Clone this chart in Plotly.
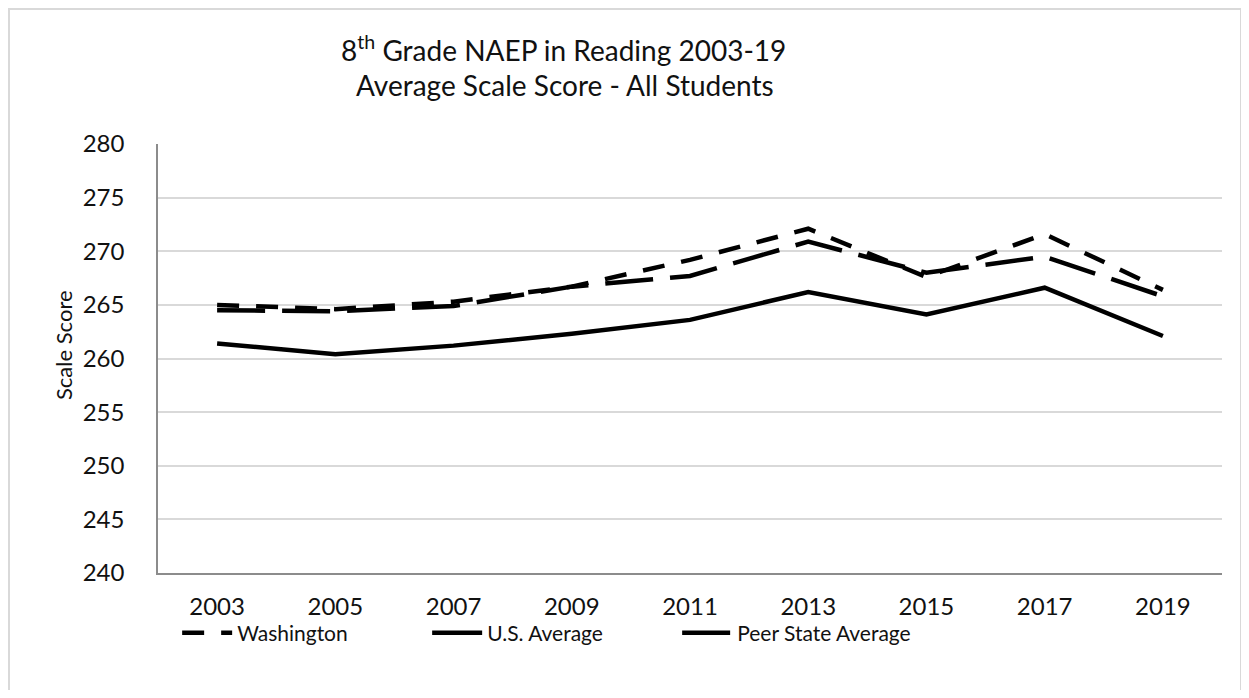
import plotly.graph_objects as go

years = ["2003", "2005", "2007", "2009", "2011", "2013", "2015", "2017", "2019"]
washington = [265.0, 264.6, 265.3, 266.7, 269.2, 272.1, 267.6, 271.6, 266.4]
us_average = [261.4, 260.4, 261.2, 262.3, 263.6, 266.2, 264.1, 266.6, 262.1]
peer_average = [264.5, 264.4, 264.9, 266.7, 267.7, 270.9, 268.0, 269.5, 265.8]
y_ticks = [240, 245, 250, 255, 260, 265, 270, 275, 280]

FONT = "Lato"

fig = go.Figure()
fig.add_trace(go.Scatter(x=years, y=washington, mode="lines", name="Washington",
                         line=dict(color="black", width=4.5, dash="22px,17px")))
fig.add_trace(go.Scatter(x=years, y=us_average, mode="lines", name="U.S. Average",
                         line=dict(color="black", width=4.5)))
fig.add_trace(go.Scatter(x=years, y=peer_average, mode="lines", name="Peer State Average",
                         line=dict(color="black", width=4.5, dash="48px,17px")))

# page offset of ~8px: plot area spans x 158..1222, y 144..573 in the screenshot
X0, X1, Y0, Y1 = 158.0, 1222.0, 144.0, 573.0
PW, PH = X1 - X0, Y1 - Y0


def px(x):
    return (x - X0) / PW


def py(y):
    return (Y1 - y) / PH


fig.update_layout(
    width=1233, height=682,
    margin=dict(l=150, r=19, t=136, b=117),
    paper_bgcolor="white", plot_bgcolor="white",
    font=dict(family=FONT, color="black", size=20),
    xaxis=dict(
        type="category", range=[-0.5, 8.5], showgrid=False, showline=True,
        linecolor="#8c8c8c", linewidth=1.5, ticks="", ticklabelstandoff=11,
        tickfont=dict(size=24, family=FONT, color="#111111"), fixedrange=True,
    ),
    yaxis=dict(
        range=[240, 280], tickvals=y_ticks, showgrid=True, gridcolor="#d9d9d9", gridwidth=1.5,
        showline=True, linecolor="#8c8c8c", linewidth=1.5, zeroline=False, ticks="",
        ticklabelstandoff=27, tickfont=dict(size=24, family=FONT, color="#111111"),
    ),
    showlegend=True,
    legend=dict(
        orientation="h", x=0.018, xanchor="left", y=-0.14, yanchor="middle",
        font=dict(size=21, family=FONT, color="#111111"), entrywidth=185,
        entrywidthmode="pixels", itemwidth=50, bgcolor="rgba(0,0,0,0)",
    ),
    annotations=[
        dict(text="8<sup>th</sup> Grade NAEP in Reading 2003-19", xref="paper", yref="paper",
             x=px(563), y=py(48), xanchor="center", yanchor="middle", showarrow=False,
             font=dict(family=FONT, size=28, color="#111111")),
        dict(text="Average Scale Score - All Students", xref="paper", yref="paper",
             x=px(565), y=py(85), xanchor="center", yanchor="middle", showarrow=False,
             font=dict(family=FONT, size=28, color="#111111")),
        dict(text="Scale Score", xref="paper", yref="paper", textangle=-90,
             x=px(63), y=py(345), xanchor="center", yanchor="middle", showarrow=False,
             font=dict(family=FONT, size=22, color="#111111")),
    ],
    shapes=[dict(type="rect", xref="paper", yref="paper",
                 x0=px(9), x1=px(1241), y0=py(720), y1=py(9),
                 line=dict(color="#d9d9d9", width=2))],
)

fig.write_html("out.html")
